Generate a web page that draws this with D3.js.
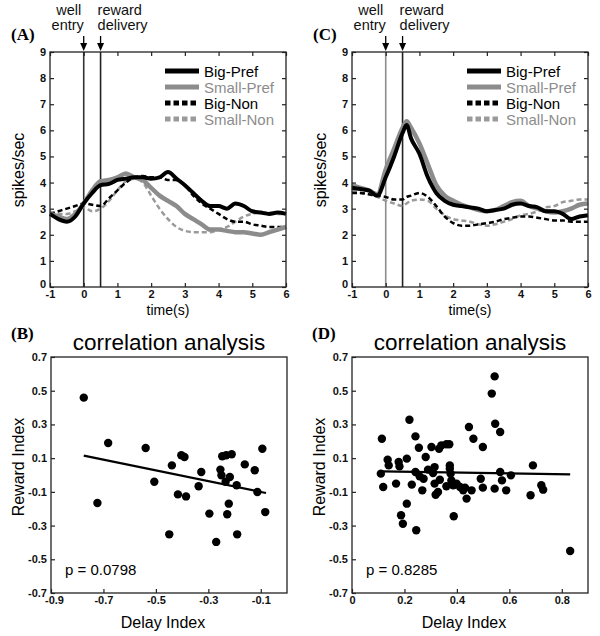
<!DOCTYPE html>
<html><head><meta charset="utf-8">
<script src="https://cdn.jsdelivr.net/npm/d3@7"></script>
<style>body{margin:0;background:#fff}svg{display:block}</style>
</head><body>
<script>
// ---------- DATA ----------
const timeA = [-1,-0.75,-0.5,-0.25,0,0.25,0.5,0.75,1,1.25,1.5,1.75,2,2.25,2.5,2.75,3,3.25,3.5,3.75,4,4.25,4.5,4.75,5,5.25,5.5,5.75,6];
const aBigPref   = [2.8,2.6,2.5,2.7,3.2,3.6,3.9,3.95,4.1,4.15,4.2,4.2,4.15,4.2,4.4,4.15,3.9,3.6,3.3,3.1,3.1,3.0,3.2,3.1,2.9,2.85,2.8,2.85,2.8];
const aSmallPref = [2.8,2.7,2.6,2.8,3.2,3.7,4.05,4.1,4.2,4.35,4.2,4.1,3.8,3.5,3.3,3.1,2.8,2.6,2.4,2.2,2.2,2.15,2.1,2.1,2.05,2.0,2.1,2.2,2.3];
const aBigNon    = [2.8,2.9,3.0,3.1,3.2,3.15,3.1,3.4,3.7,4.0,4.2,4.25,4.2,4.2,4.1,4.1,3.9,3.5,3.2,3.0,2.8,2.6,2.5,2.5,2.4,2.35,2.3,2.3,2.3];
const aSmallNon  = [2.9,2.8,2.8,2.9,3.05,2.9,3.0,3.3,3.7,4.05,4.15,4.0,3.5,3.0,2.6,2.3,2.15,2.1,2.1,2.1,2.2,2.3,2.5,2.7,2.8,2.85,2.85,2.8,2.8];

const timeC = [-1,-0.75,-0.5,-0.25,0,0.25,0.5,0.62,0.75,1,1.25,1.5,1.75,2,2.25,2.5,2.75,3,3.25,3.5,3.75,4,4.25,4.5,4.75,5,5.25,5.5,5.75,6];
const cBigPref   = [3.8,3.75,3.7,3.5,4.2,5.0,5.9,6.2,5.7,5.1,4.2,3.6,3.3,3.15,3.1,3.05,3.0,2.9,2.95,3.0,3.15,3.2,3.1,3.05,2.9,2.9,2.8,2.6,2.7,2.75];
const cSmallPref = [3.9,3.8,3.7,3.55,4.5,5.3,6.1,6.35,6.1,5.5,4.7,3.9,3.5,3.3,3.15,3.05,2.95,2.9,2.95,3.1,3.25,3.3,3.1,3.0,2.9,2.85,2.9,3.0,3.15,3.2];
const cBigNon    = [3.6,3.6,3.55,3.5,3.45,3.35,3.35,3.45,3.5,3.6,3.45,3.1,2.7,2.45,2.35,2.35,2.4,2.45,2.5,2.6,2.65,2.7,2.7,2.65,2.6,2.55,2.55,2.5,2.5,2.5];
const cSmallNon  = [3.7,3.6,3.55,3.45,3.3,3.2,3.1,3.2,3.3,3.35,3.3,3.0,2.75,2.6,2.55,2.5,2.4,2.35,2.4,2.5,2.6,2.75,2.8,2.9,3.05,3.1,3.25,3.3,3.35,3.35];

const seriesNames = ["Big-Pref","Small-Pref","Big-Non","Small-Non"];
const eventTimes = [0, 0.5];
const eventLabels = [["well","entry"],["reward","delivery"]];
const timeTicks = [-1,0,1,2,3,4,5,6];
const rateTicks = [0,1,2,3,4,5,6,7,8,9];

const bX = [-0.775,-0.723,-0.682,-0.539,-0.506,-0.439,-0.449,-0.416,-0.403,-0.391,-0.385,-0.337,-0.327,-0.296,-0.270,-0.254,-0.247,-0.250,-0.234,-0.232,-0.228,-0.222,-0.218,-0.211,-0.192,-0.190,-0.161,-0.123,-0.113,-0.094,-0.083];
const bY = [0.459,-0.166,0.19,0.16,-0.04,0.057,-0.352,-0.115,0.117,0.107,-0.127,-0.067,0.018,-0.229,-0.397,0.032,0.111,-0.002,-0.04,0.117,-0.233,-0.17,-0.012,0.123,-0.061,-0.352,0.063,0.028,-0.101,0.156,-0.22];
const bFitX = [-0.775,-0.08];
const bFitY = [0.115,-0.107];
const bP = "p = 0.0798";

const dX = [0.114,0.110,0.119,0.136,0.140,0.168,0.178,0.181,0.187,0.194,0.209,0.209,0.219,0.228,0.242,0.242,0.245,0.255,0.258,0.268,0.273,0.281,0.290,0.303,0.309,0.315,0.315,0.319,0.328,0.332,0.335,0.341,0.360,0.360,0.371,0.373,0.373,0.376,0.379,0.386,0.388,0.399,0.412,0.424,0.431,0.437,0.446,0.456,0.463,0.491,0.499,0.499,0.533,0.544,0.546,0.544,0.565,0.565,0.572,0.588,0.606,0.681,0.690,0.722,0.729,0.832];
const dY = [0.215,0.008,-0.071,0.091,0.057,-0.051,0.077,0.051,-0.239,-0.289,0.097,-0.17,0.328,-0.057,0.229,0.018,-0.328,0.162,-0.008,-0.091,-0.022,0.107,0.032,0.166,0.012,-0.051,0.047,-0.117,-0.101,0.156,-0.028,0.176,-0.067,0.182,0.182,0.057,0.037,0.008,-0.032,-0.061,-0.245,-0.051,-0.071,-0.091,-0.075,-0.14,0.285,-0.091,0.215,-0.022,0.166,-0.075,0.483,-0.081,0.304,0.585,0.255,0.018,-0.032,-0.091,-0.002,-0.12,0.057,-0.061,-0.087,-0.451];
const dFitX = [0.117,0.832];
const dFitY = [0.022,0.004];
const dP = "p = 0.8285";

const bXTicks = [-0.9,-0.7,-0.5,-0.3,-0.1];
const dXTicks = [0,0.2,0.4,0.6,0.8];
const indexTicks = [0.7,0.5,0.3,0.1,-0.1,-0.3,-0.5,-0.7];

// ---------- DRAW ----------
const W = 600, H = 636;
const svg = d3.select("body").append("svg").attr("width", W).attr("height", H);
const SANS = "'Liberation Sans', Arial, sans-serif";
const SERIF = "'Liberation Serif', 'Times New Roman', serif";
const GRAY = "#8c8c8c";
const styles = [
  {color:"#000", width:4, dash:null},
  {color:GRAY, width:4.5, dash:null},
  {color:"#000", width:2.5, dash:"5,3"},
  {color:"#9a9a9a", width:2.5, dash:"5,3"}
];
const loc = d3.formatLocale({decimal:".", thousands:",", grouping:[3], currency:["",""], minus:"-"});
const fmtInt = loc.format("d");
const fmt1 = loc.format(".1f");
const fmtD = d => d === 0 ? "0" : fmt1(d);

function frame(g, x, y, xTicks, yTicks, fmtX, fmtY, mirror, liftBottomY, shiftFirstX) {
  const [x0, x1] = x.range(), [y0, y1] = y.range();
  g.append("rect").attr("x", x0).attr("y", y1).attr("width", x1 - x0).attr("height", y0 - y1)
    .attr("fill", "none").attr("stroke", "#222").attr("stroke-width", 1.3);
  const tl = 4;
  const ax = g.append("g").attr("transform", `translate(0,${y0})`)
    .call(d3.axisBottom(x).tickValues(xTicks).tickSizeInner(-tl).tickSizeOuter(0).tickPadding(3).tickFormat(fmtX));
  const ay = g.append("g").attr("transform", `translate(${x0},0)`)
    .call(d3.axisLeft(y).tickValues(yTicks).tickSizeInner(-tl).tickSizeOuter(0).tickPadding(4).tickFormat(fmtY));
  [ax, ay].forEach(a => {
    a.select(".domain").remove();
    a.selectAll("line").attr("stroke", "#222").attr("stroke-width", 1.2);
    a.selectAll("text").attr("font-family", SANS).attr("font-weight", "bold").attr("font-size", 11).attr("fill", "#111");
  });
  const yMin = d3.min(yTicks), xMin = d3.min(xTicks);
  if (liftBottomY) ay.selectAll(".tick").filter(d => d === yMin).select("text").attr("dy", "0.05em");
  if (shiftFirstX) ax.selectAll(".tick").filter(d => d === xMin).select("text").attr("dx", 3);
  if (mirror) {
    const at = g.append("g").attr("transform", `translate(0,${y1})`)
      .call(d3.axisTop(x).tickValues(xTicks).tickSizeInner(-tl).tickSizeOuter(0).tickFormat(""));
    const ar = g.append("g").attr("transform", `translate(${x1},0)`)
      .call(d3.axisRight(y).tickValues(yTicks).tickSizeInner(-tl).tickSizeOuter(0).tickFormat(""));
    [at, ar].forEach(a => { a.select(".domain").remove(); a.selectAll("line").attr("stroke", "#222").attr("stroke-width", 1.2); });
  }
}

function psth(ox, letter, times, data, eventColors) {
  const g = svg.append("g");
  const x = d3.scaleLinear().domain([-1, 6]).range([ox, ox + 236]);
  const y = d3.scaleLinear().domain([0, 9]).range([287, 52]);
  eventTimes.forEach((t, i) => {
    g.append("line").attr("x1", x(t)).attr("x2", x(t)).attr("y1", y(0)).attr("y2", y(9))
      .attr("stroke", eventColors[i]).attr("stroke-width", 1.6);
    g.append("line").attr("x1", x(t)).attr("x2", x(t)).attr("y1", 36).attr("y2", 47)
      .attr("stroke", "#000").attr("stroke-width", 1.3);
    g.append("path").attr("d", `M${x(t)-3.5},${43} L${x(t)},${51} L${x(t)+3.5},${43} Z`).attr("fill", "#000");
  });
  const lab = g.append("g").attr("font-family", SANS).attr("font-size", 14.5).attr("fill", "#111");
  lab.append("text").attr("x", x(0) - 15).attr("y", 15).attr("text-anchor", "middle").text(eventLabels[0][0]);
  lab.append("text").attr("x", x(0) - 16).attr("y", 30).attr("text-anchor", "middle").text(eventLabels[0][1]);
  lab.append("text").attr("x", x(0.5) - 3).attr("y", 15).attr("text-anchor", "start").text(eventLabels[1][0]);
  lab.append("text").attr("x", x(0.5) - 3).attr("y", 30).attr("text-anchor", "start").text(eventLabels[1][1]);
  const line = d3.line().x((d, i) => x(times[i])).y(d => y(d)).curve(d3.curveMonotoneX);
  [3, 2, 1, 0].forEach(k => {
    const s = styles[k];
    g.append("path").datum(data[k]).attr("d", line).attr("fill", "none")
      .attr("stroke", s.color).attr("stroke-width", s.width)
      .attr("stroke-dasharray", s.dash).attr("stroke-linejoin", "round");
  });
  frame(g, x, y, timeTicks, rateTicks, fmtInt, fmtInt, true, true, false);
  const lg = g.append("g");
  seriesNames.forEach((n, k) => {
    const s = styles[k];
    const yy = 71 + k * 16;
    lg.append("line").attr("x1", ox + 115).attr("x2", ox + 149).attr("y1", yy).attr("y2", yy)
      .attr("stroke", s.color).attr("stroke-width", 5)
      .attr("stroke-dasharray", s.dash ? "5.5,3" : null);
    lg.append("text").attr("x", ox + 154).attr("y", yy + 5.5).attr("font-family", SANS).attr("font-size", 15)
      .attr("fill", k % 2 === 0 ? "#000" : GRAY).text(n);
  });
  g.append("text").attr("x", (x.range()[0] + x.range()[1]) / 2).attr("y", 315).attr("text-anchor", "middle")
    .attr("font-family", SANS).attr("font-size", 14).text("time(s)");
  g.append("text").attr("transform", `translate(${ox - 26},170) rotate(-90)`).attr("text-anchor", "middle")
    .attr("font-family", SANS).attr("font-size", 16).text("spikes/sec");
  svg.append("text").attr("x", ox - 39).attr("y", 40).attr("font-family", SERIF).attr("font-weight", "bold")
    .attr("font-size", 17).text(letter);
}

function scatter(ox, letter, xDom, xTicks, xs, ys, fx, fy, ptxt, fmtX, shiftFirstX) {
  const g = svg.append("g");
  const x = d3.scaleLinear().domain(xDom).range([ox, ox + 236]);
  const y = d3.scaleLinear().domain([-0.7, 0.7]).range([593, 357]);
  frame(g, x, y, xTicks, indexTicks, fmtX, fmt1, false, false, shiftFirstX);
  g.selectAll("circle").data(xs).join("circle").attr("cx", d => x(d)).attr("cy", (d, i) => y(ys[i]))
    .attr("r", 4.2).attr("fill", "#000");
  g.append("line").attr("x1", x(fx[0])).attr("x2", x(fx[1])).attr("y1", y(fy[0])).attr("y2", y(fy[1]))
    .attr("stroke", "#000").attr("stroke-width", 2.2);
  g.append("text").attr("x", ox + 14).attr("y", 575).attr("font-family", SANS).attr("font-size", 15).text(ptxt);
  g.append("text").attr("x", ox + 118).attr("y", 350).attr("text-anchor", "middle")
    .attr("font-family", SANS).attr("font-size", 22.5).text("correlation analysis");
  g.append("text").attr("x", ox + 112).attr("y", 628).attr("text-anchor", "middle")
    .attr("font-family", SANS).attr("font-size", 16).text("Delay Index");
  g.append("text").attr("transform", `translate(${ox - 27},467) rotate(-90)`).attr("text-anchor", "middle")
    .attr("font-family", SANS).attr("font-size", 16).text("Reward Index");
  svg.append("text").attr("x", ox - 40).attr("y", 339).attr("font-family", SERIF).attr("font-weight", "bold")
    .attr("font-size", 17).text(letter);
}

psth(50, "(A)", timeA, [aBigPref, aSmallPref, aBigNon, aSmallNon], ["#333", "#222"]);
psth(352, "(C)", timeC, [cBigPref, cSmallPref, cBigNon, cSmallNon], [GRAY, "#222"]);
scatter(51, "(B)", [-0.9, 0], bXTicks, bX, bY, bFitX, bFitY, bP, fmt1, true);
scatter(352, "(D)", [0, 0.9], dXTicks, dX, dY, dFitX, dFitY, dP, fmtD, false);
</script>
</body></html>
